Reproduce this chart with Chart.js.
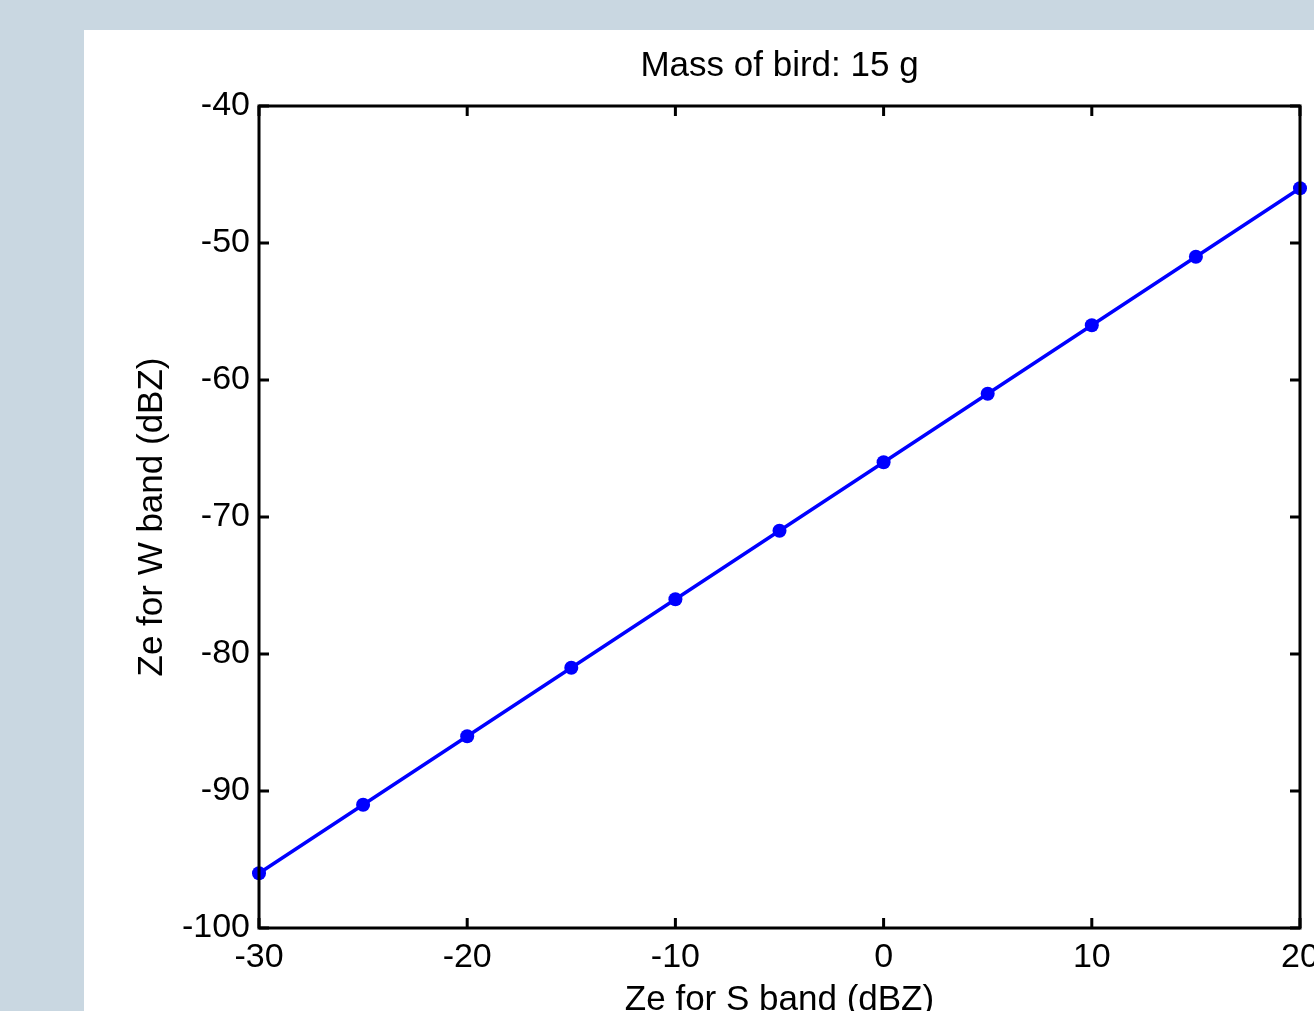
<!DOCTYPE html>
<html>
<head>
<meta charset="utf-8">
<title>Mass of bird: 15 g</title>
<script src="https://cdn.jsdelivr.net/npm/chart.js@4.4.0/dist/chart.umd.min.js"></script>
<style>
  html, body { margin: 0; padding: 0; overflow: hidden; background: #c9d7e1; }
  #panel { position: absolute; left: 84px; top: 30px; right: 0; bottom: 0; background: #ffffff; }
  #chart { position: absolute; left: 0; top: 0; }
</style>
</head>
<body>
<div id="panel"></div>
<canvas id="chart" width="1314" height="1040"></canvas>
<script>
  // Data
  const sBandZe = [-30, -25, -20, -15, -10, -5, 0, 5, 10, 15, 20];
  const wBandZe = [-96, -91, -86, -81, -76, -71, -66, -61, -56, -51, -46];
  const xTicks = [-30, -20, -10, 0, 10, 20];
  const yTicks = [-100, -90, -80, -70, -60, -50, -40];

  const FONT = '"Liberation Sans", Arial, Helvetica, sans-serif';

  // box around the plot + inward ticks on all four sides
  const frameBox = {
    id: 'frameBox',
    afterDraw(chart) {
      const { ctx, chartArea: a, scales } = chart;
      const tl = 10;
      ctx.save();
      ctx.strokeStyle = '#000';
      ctx.lineWidth = 3;
      ctx.beginPath();
      xTicks.forEach(v => {
        const px = scales.x.getPixelForValue(v);
        ctx.moveTo(px, a.bottom); ctx.lineTo(px, a.bottom - tl);
        ctx.moveTo(px, a.top); ctx.lineTo(px, a.top + tl);
      });
      yTicks.forEach(v => {
        const py = scales.y.getPixelForValue(v);
        ctx.moveTo(a.left, py); ctx.lineTo(a.left + tl, py);
        ctx.moveTo(a.right, py); ctx.lineTo(a.right - tl, py);
      });
      ctx.stroke();
      ctx.strokeRect(a.left, a.top, a.right - a.left, a.bottom - a.top);
      ctx.restore();
    }
  };

  const ctx = document.getElementById('chart').getContext('2d');
  const chart = new Chart(ctx, {
    type: 'line',
    data: {
      datasets: [{
        data: sBandZe.map((x, i) => ({ x: x, y: wBandZe[i] })),
        borderColor: '#0000ff',
        backgroundColor: '#0000ff',
        borderWidth: 3.5,
        pointRadius: 7,
        pointBorderWidth: 0,
        pointBackgroundColor: '#0000ff',
        tension: 0,
        clip: false
      }]
    },
    options: {
      responsive: false,
      animation: false,
      layout: { padding: { left: 0, right: 14, top: 0, bottom: 0 } },
      plugins: {
        legend: { display: false },
        tooltip: { enabled: false },
        title: {
          display: true,
          text: 'Mass of bird: 15 g',
          fullSize: false,
          color: '#000',
          font: { family: FONT, size: 35, weight: 'normal', lineHeight: 1.2 },
          padding: { top: 45, bottom: 19 }
        }
      },
      scales: {
        x: {
          type: 'linear',
          min: -30,
          max: 20,
          afterBuildTicks: s => { s.ticks = xTicks.map(v => ({ value: v })); },
          afterFit: s => { s.height = 112; s.paddingLeft = 0; s.paddingRight = 0; },
          grid: { display: false, drawTicks: false },
          border: { display: false },
          ticks: {
            color: '#000',
            padding: 9,
            maxRotation: 0,
            autoSkip: false,
            font: { family: FONT, size: 34 }
          },
          title: {
            display: true,
            text: 'Ze for S band (dBZ)',
            color: '#000',
            font: { family: FONT, size: 35, lineHeight: 1.2 },
            padding: { top: 0, bottom: 19 }
          }
        },
        y: {
          type: 'linear',
          min: -100,
          max: -40,
          afterBuildTicks: s => { s.ticks = yTicks.map(v => ({ value: v })); },
          afterFit: s => { s.width = 259; s.paddingTop = 0; s.paddingBottom = 0; },
          grid: { display: false, drawTicks: false },
          border: { display: false },
          ticks: {
            color: '#000',
            padding: 9,
            autoSkip: false,
            font: { family: FONT, size: 34 }
          },
          title: {
            display: true,
            text: 'Ze for W band (dBZ)',
            color: '#000',
            font: { family: FONT, size: 35, lineHeight: 1.2 },
            padding: { top: 131, bottom: 0 }
          }
        }
      }
    },
    plugins: [frameBox]
  });
</script>
</body>
</html>
